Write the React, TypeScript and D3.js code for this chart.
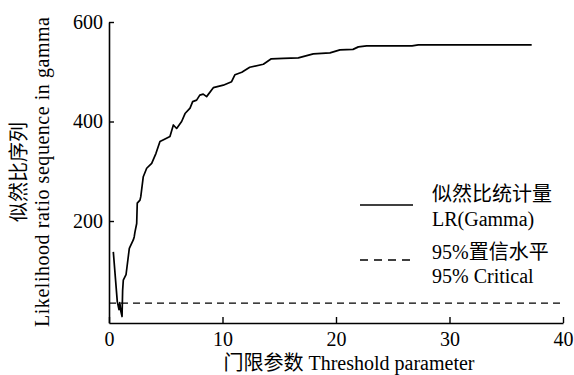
import React, { useEffect, useRef } from 'react';
import * as d3 from 'd3';

// threshold parameter (x) and LR statistic (y)
const thresholdValues = [
  0.38, 0.73, 0.88, 0.95, 1.05, 1.15, 1.2, 1.26, 1.5, 1.79, 2.14, 2.22, 2.29, 2.44, 2.49, 2.73,
  2.8, 3.02, 3.32, 3.76, 4.14, 4.49, 4.85, 5.37, 5.67, 5.96, 6.4, 6.7, 7.14, 7.37, 7.72, 8.0,
  8.3, 8.6, 9.19, 10.07, 10.8, 11.1, 11.7, 12.4, 13.6, 14.3, 15.36, 16.68, 18.0, 19.47, 20.35,
  21.5, 21.97, 22.7, 26.7, 27.25, 37.24,
];
const lrValues = [
  138, 38, 22, 36, 18, 8, 60, 81, 92, 145, 162, 168, 178, 195, 236, 242,
  249, 289, 306, 316, 336, 360, 364, 370, 393, 386, 400, 416, 427, 440, 443, 453,
  455, 450, 468, 473, 480, 494, 499, 509, 515, 526, 527, 528, 536, 538, 544,
  545, 550, 552, 552, 554, 554,
];
const criticalValue = 35;
const xTicks = [0, 10, 20, 30, 40];
const yTicks = [200, 400, 600];

const latin = "'Liberation Serif'";
const cjk = "'Noto Sans CJK SC'";

// split a label into latin / cjk runs so each run gets its own font
function runs(t: string) {
  const out: { s: string; c: boolean }[] = [];
  for (const ch of t) {
    const c = /[\u3000-\u9fff]/.test(ch);
    if (out.length && out[out.length - 1].c === c) out[out.length - 1].s += ch;
    else out.push({ s: ch, c });
  }
  return out;
}

export default function App() {
  const ref = useRef<SVGSVGElement>(null);

  useEffect(() => {
    const svg = d3.select(ref.current);
    svg.selectAll('*').remove();

    const x = d3.scaleLinear().domain([0, 40]).range([109, 563]);
    const y = d3.scaleLinear().domain([-5, 600]).range([323, 22]);

    const data = thresholdValues.map((t, i) => [t, lrValues[i]] as [number, number]);

    svg.append('path')
      .datum(data)
      .attr('fill', 'none')
      .attr('stroke', '#000')
      .attr('stroke-width', 1.7)
      .attr('stroke-linejoin', 'round')
      .attr('d', d3.line().x(d => x(d[0])).y(d => y(d[1])));

    svg.append('line')
      .attr('x1', x(0)).attr('x2', x(40))
      .attr('y1', y(criticalValue)).attr('y2', y(criticalValue))
      .attr('stroke', '#000')
      .attr('stroke-width', 1.4)
      .attr('stroke-dasharray', '7,5');

    const xAxis = svg.append('g')
      .attr('transform', `translate(0,${y(-5)})`)
      .call(d3.axisBottom(x).tickValues(xTicks).tickSizeInner(-6).tickSizeOuter(0).tickPadding(9));
    const yAxis = svg.append('g')
      .attr('transform', `translate(${x(0)},0)`)
      .call(d3.axisLeft(y).tickValues(yTicks).tickSizeInner(-5).tickSizeOuter(0).tickPadding(6));

    [xAxis, yAxis].forEach(g => {
      g.attr('font-family', latin).attr('font-size', 20);
      g.select('.domain').attr('stroke-width', 1.6);
      g.selectAll('.tick line').attr('stroke-width', 1.4);
      g.selectAll('.tick text')
        .attr('font-family', latin)
        .attr('font-size', 20)
        .attr('fill', '#000');
    });

    const addText = (sel: any, t: string) => {
      const el = sel.append('text')
        .attr('font-size', 20)
        .attr('fill', '#000');
      runs(t).forEach(r => {
        el.append('tspan').attr('font-family', r.c ? cjk : latin).text(r.s);
      });
      return el;
    };

    addText(svg, '门限参数 Threshold parameter')
      .attr('x', 349).attr('y', 370)
      .attr('text-anchor', 'middle');

    addText(svg, '似然比序列')
      .attr('transform', 'translate(26,172) rotate(-90)')
      .attr('text-anchor', 'middle');

    addText(svg, 'Likelihood ratio sequence in gamma')
      .attr('transform', 'translate(49,172) rotate(-90)')
      .attr('text-anchor', 'middle')
      .attr('textLength', 310)
      .attr('lengthAdjust', 'spacing');

    // legend
    const legend = svg.append('g');
    legend.append('line')
      .attr('x1', 360).attr('x2', 413).attr('y1', 205).attr('y2', 205)
      .attr('stroke', '#000').attr('stroke-width', 1.7);
    legend.append('line')
      .attr('x1', 360).attr('x2', 413).attr('y1', 260).attr('y2', 260)
      .attr('stroke', '#000').attr('stroke-width', 1.4)
      .attr('stroke-dasharray', '8,6');
    const labels = [
      ['似然比统计量', 201],
      ['LR(Gamma)', 226],
      ['95%置信水平', 259],
      ['95% Critical', 283],
    ] as [string, number][];
    labels.forEach(([t, yy]) => {
      addText(legend, t).attr('x', 432).attr('y', yy);
    });
  }, []);

  return (
    <svg ref={ref} width={574} height={375}
      style={{ position: 'absolute', left: 0, top: 0, background: '#fff' }} />
  );
}
